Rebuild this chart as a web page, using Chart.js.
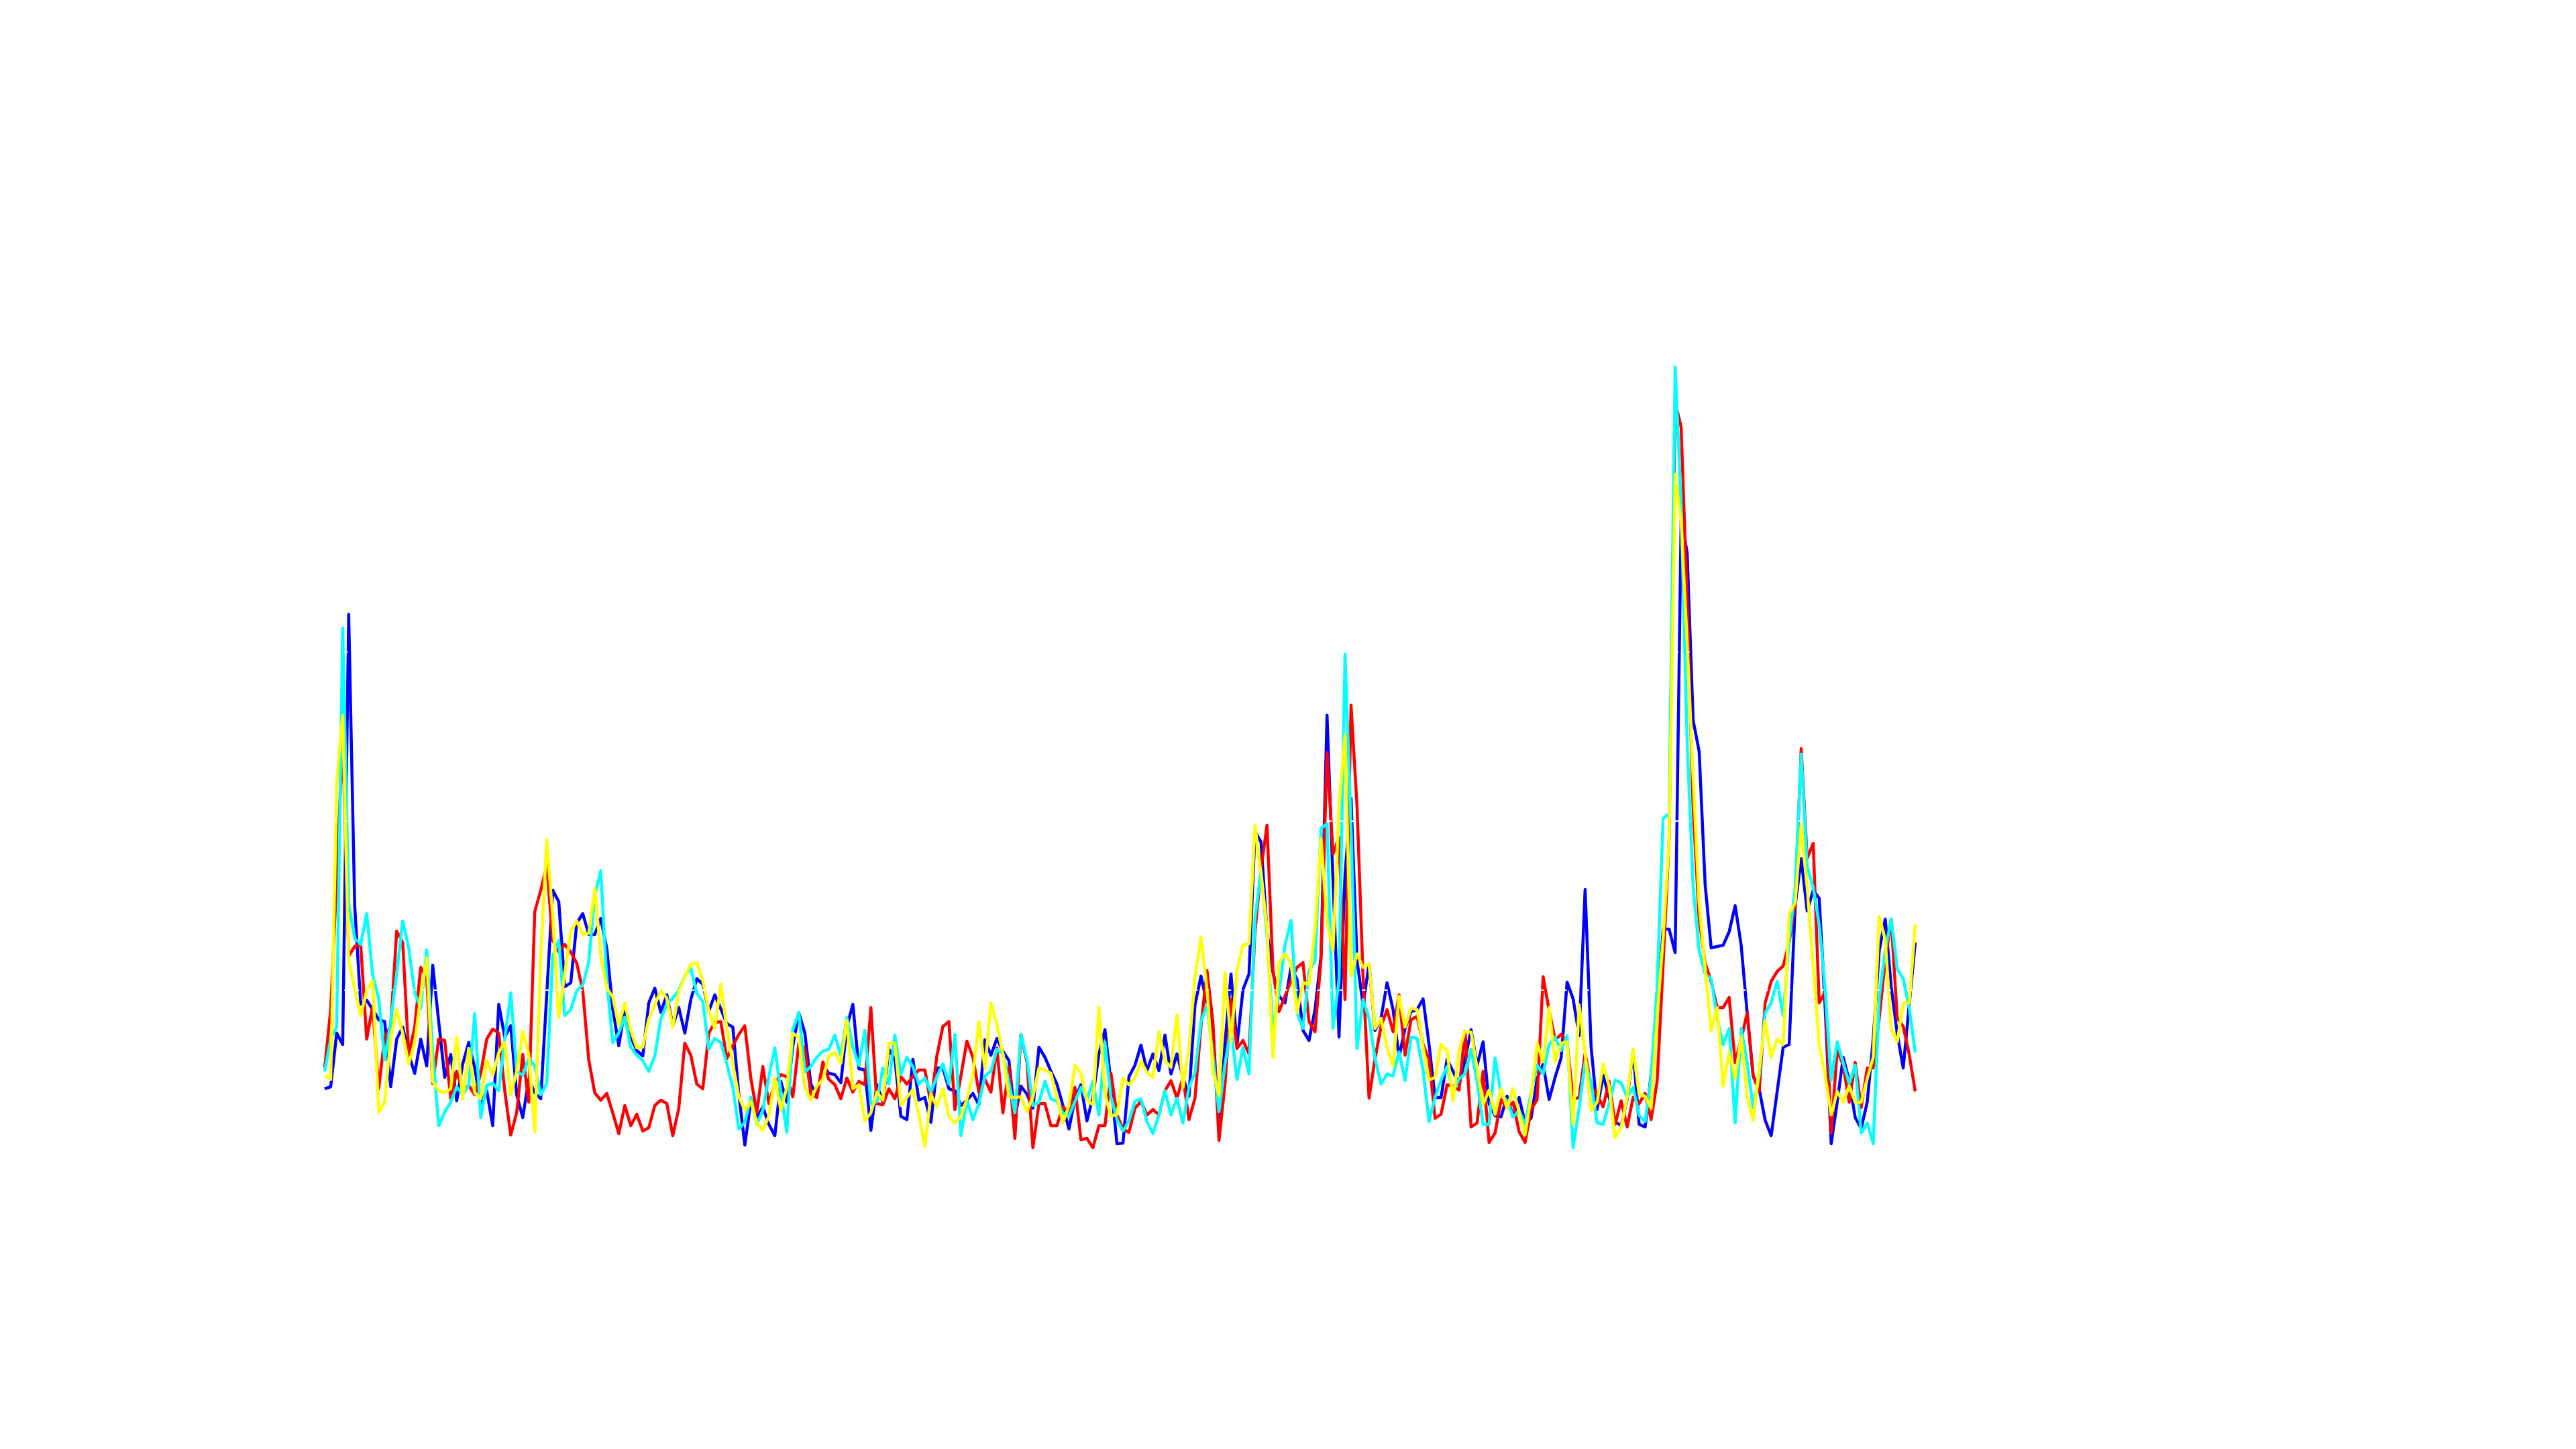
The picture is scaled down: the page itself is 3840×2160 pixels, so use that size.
<!DOCTYPE html>
<html>
<head>
<meta charset="utf-8">
<script src="https://cdn.jsdelivr.net/npm/chart.js@4.4.1/dist/chart.umd.min.js"></script>
<style>
    html, body { margin: 0; padding: 0; background: #ffffff; }
    #wrap { width: 3840px; height: 2160px; }
</style>
</head>
<body>
<div id="wrap"><canvas id="lineChart" width="3840" height="2160"></canvas></div>
<script>
var blueValues = [
    12.7, 13.0, 21.0, 19.3, 83.4, 40.0, 25.3, 25.9, 24.5, 23.0,
    22.7, 13.0, 20.1, 21.9, 17.8, 15.0, 20.1, 16.1, 31.1, 22.7,
    14.4, 17.8, 10.9, 16.4, 19.6, 15.8, 10.4, 12.4, 7.2, 25.3,
    20.4, 22.1, 11.8, 8.4, 14.1, 12.1, 11.2, 26.8, 42.3, 40.6,
    27.9, 28.5, 37.4, 38.8, 35.7, 35.7, 38.1, 33.6, 24.6, 19.1,
    24.6, 20.5, 18.4, 17.6, 25.5, 27.7, 24.1, 26.7, 22.1, 24.8,
    21.0, 26.0, 29.1, 28.3, 24.3, 26.7, 24.6, 22.4, 21.9, 11.9,
    4.3, 10.8, 8.3, 10.0, 7.4, 5.7, 13.8, 10.7, 19.1, 24.0,
    21.0, 13.4, 11.7, 16.2, 15.0, 14.8, 13.6, 21.9, 25.3, 15.7,
    15.5, 6.5, 13.3, 10.7, 18.6, 17.1, 8.6, 8.1, 17.1, 11.0,
    11.4, 7.7, 15.8, 15.8, 12.7, 12.4, 10.2, 11.0, 12.0, 10.3,
    20.0, 17.7, 20.2, 18.3, 16.9, 8.4, 13.1, 11.9, 9.8, 18.9,
    17.4, 15.3, 13.4, 10.2, 6.7, 11.2, 13.3, 7.9, 11.5, 17.9,
    21.5, 13.6, 4.5, 4.6, 14.5, 16.2, 19.2, 15.4, 17.9, 15.4,
    20.7, 14.9, 17.9, 14.4, 11.6, 25.2, 29.5, 25.5, 20.9, 6.8,
    19.4, 29.8, 19.2, 27.5, 29.8, 51.0, 49.5, 36.1, 30.0, 26.5,
    25.5, 30.8, 29.0, 21.4, 19.9, 24.5, 32.5, 68.4, 43.7, 20.4,
    44.7, 56.0, 31.8, 25.2, 31.3, 21.4, 23.2, 28.5, 24.5, 17.4,
    21.7, 24.2, 24.5, 26.1, 19.3, 11.4, 11.4, 17.1, 15.3, 13.3,
    17.1, 21.5, 16.2, 19.7, 10.5, 8.7, 8.5, 11.6, 8.5, 11.4,
    7.6, 8.3, 14.2, 16.4, 11.1, 14.4, 17.3, 28.6, 26.1, 20.6,
    42.4, 18.9, 9.6, 14.7, 11.4, 7.8, 7.2, 11.1, 18.4, 7.4,
    7.0, 14.9, 23.7, 36.5, 36.5, 33.0, 97.7, 92.6, 67.6, 63.0,
    43.1, 33.7, 33.9, 34.1, 36.1, 40.0, 34.1, 24.0, 14.6, 12.7,
    8.0, 5.7, 12.3, 18.9, 19.3, 40.0, 47.0, 39.2, 42.3, 41.1,
    24.8, 4.5, 10.7, 17.4, 13.9, 8.4, 6.8, 10.7, 20.1, 33.3,
    38.0, 27.9, 20.9, 15.8, 25.2, 34.5
];

var redValues = [
    15.8, 24.5, 44.0, 65.3, 32.5, 33.9, 34.2, 20.1, 25.0, 12.7,
    20.4, 22.1, 36.2, 34.5, 17.8, 21.9, 30.8, 29.1, 13.5, 20.1,
    19.9, 11.2, 15.3, 12.4, 13.2, 11.8, 15.0, 20.1, 21.6, 21.0,
    12.4, 5.8, 9.2, 17.8, 10.7, 39.1, 42.3, 46.0, 34.8, 33.1,
    34.2, 33.1, 31.4, 27.3, 17.0, 12.1, 11.0, 12.0, 9.1, 6.0,
    10.2, 7.2, 8.9, 6.4, 6.9, 10.2, 11.0, 10.5, 5.7, 9.8,
    19.5, 17.7, 13.4, 12.7, 21.0, 22.6, 22.7, 17.2, 19.1, 20.8,
    22.1, 14.3, 9.1, 16.0, 10.5, 13.6, 14.8, 14.5, 11.5, 19.5,
    18.8, 11.9, 11.4, 16.7, 14.1, 13.3, 11.2, 14.3, 12.2, 13.8,
    13.3, 24.8, 10.5, 10.3, 12.7, 11.2, 14.5, 13.4, 14.5, 15.5,
    15.5, 10.5, 17.6, 22.0, 22.7, 9.6, 14.6, 19.8, 17.4, 12.2,
    14.1, 12.2, 18.8, 9.1, 16.0, 5.3, 20.8, 16.7, 3.9, 10.5,
    10.5, 7.2, 7.2, 10.0, 9.1, 12.9, 5.1, 5.3, 3.9, 7.2,
    7.2, 15.0, 8.8, 6.7, 6.2, 9.8, 10.8, 8.8, 9.6, 8.8,
    12.4, 13.9, 11.3, 14.4, 8.1, 11.3, 22.0, 30.3, 22.5, 5.0,
    13.4, 26.0, 18.7, 19.9, 17.9, 36.1, 45.4, 52.0, 30.3, 24.2,
    26.5, 28.8, 30.8, 31.5, 22.7, 21.2, 32.0, 62.8, 47.7, 50.2,
    26.0, 69.9, 54.8, 29.5, 11.3, 17.2, 22.0, 24.5, 21.2, 26.7,
    17.7, 23.0, 23.5, 19.3, 17.1, 8.3, 8.9, 13.3, 13.1, 12.5,
    21.3, 7.0, 7.6, 15.3, 4.7, 6.1, 11.1, 9.8, 10.7, 6.3,
    4.7, 9.6, 11.1, 29.4, 24.4, 20.0, 20.8, 19.7, 11.1, 11.4,
    18.0, 13.1, 11.8, 10.0, 13.8, 7.4, 10.9, 7.0, 11.4, 10.5,
    12.0, 8.1, 13.8, 31.2, 50.0, 115.2, 111.3, 85.6, 54.4, 38.0,
    31.4, 28.7, 24.8, 24.8, 26.3, 16.6, 20.1, 24.0, 14.6, 12.3,
    25.5, 28.7, 30.2, 31.0, 34.5, 40.4, 63.4, 47.0, 49.3, 25.5,
    27.1, 6.1, 18.5, 16.2, 10.7, 16.6, 9.9, 15.8, 15.8, 23.2,
    31.8, 38.0, 23.2, 22.0, 17.8, 12.3
];

var cyanValues = [
    15.3, 20.1, 21.9, 81.4, 40.3, 35.1, 34.2, 38.8, 29.6, 26.2,
    17.0, 22.7, 29.9, 37.7, 33.7, 27.0, 24.7, 33.4, 18.1, 7.2,
    9.2, 10.7, 13.0, 11.8, 13.2, 23.9, 8.4, 13.2, 13.5, 12.4,
    20.1, 27.0, 15.3, 14.7, 17.3, 16.1, 11.8, 13.5, 32.5, 34.8,
    23.6, 24.5, 27.3, 28.2, 31.6, 41.5, 45.2, 28.8, 19.6, 21.0,
    23.4, 18.9, 17.7, 16.9, 15.3, 17.6, 23.1, 25.3, 26.2, 27.4,
    29.6, 30.7, 26.9, 25.7, 18.6, 20.2, 19.6, 16.4, 12.9, 6.7,
    7.7, 11.4, 7.4, 9.5, 14.5, 18.8, 12.2, 6.2, 21.5, 24.1,
    15.2, 16.0, 17.4, 18.3, 18.6, 20.7, 17.6, 23.3, 18.9, 16.2,
    21.4, 10.4, 10.8, 15.8, 13.4, 20.7, 14.8, 17.4, 16.0, 13.4,
    14.3, 12.2, 14.5, 16.4, 13.4, 20.8, 5.7, 11.0, 8.1, 10.5,
    14.6, 15.3, 18.6, 17.9, 13.6, 9.1, 20.8, 17.1, 10.2, 10.7,
    13.8, 11.2, 10.8, 9.1, 8.6, 10.8, 12.9, 11.0, 13.8, 8.8,
    19.6, 11.5, 8.1, 6.4, 7.9, 10.8, 11.2, 7.8, 6.0, 8.8,
    12.4, 8.8, 11.3, 7.6, 12.9, 15.1, 22.7, 25.2, 17.4, 9.3,
    16.4, 21.7, 14.1, 18.9, 14.9, 38.1, 45.2, 35.6, 21.4, 27.0,
    34.1, 37.8, 24.0, 21.7, 30.3, 31.8, 51.5, 52.2, 21.7, 29.0,
    77.5, 51.7, 18.7, 26.0, 23.2, 17.2, 13.4, 14.9, 14.6, 18.2,
    13.9, 20.4, 20.2, 15.5, 7.8, 11.4, 14.0, 16.0, 12.2, 14.2,
    14.9, 18.6, 13.8, 7.4, 7.4, 17.3, 11.8, 10.9, 8.5, 9.4,
    7.4, 12.2, 16.2, 14.9, 19.3, 20.4, 18.4, 20.6, 3.9, 9.8,
    16.7, 13.6, 7.6, 7.4, 10.5, 14.0, 13.6, 11.4, 12.9, 8.7,
    7.8, 14.4, 28.1, 53.0, 53.7, 120.3, 99.6, 64.5, 42.7, 33.3,
    29.8, 29.1, 23.2, 19.3, 21.7, 7.6, 21.7, 16.6, 9.9, 14.6,
    24.0, 25.5, 28.7, 23.6, 34.9, 42.7, 62.6, 45.8, 42.7, 37.2,
    27.5, 13.9, 19.7, 16.6, 13.5, 16.2, 6.1, 7.6, 4.5, 26.3,
    33.3, 38.0, 30.6, 29.1, 24.8, 18.1
];

var yellowValues = [
    14.7, 14.1, 58.4, 68.4, 31.9, 27.6, 23.6, 27.3, 28.8, 9.2,
    10.7, 20.4, 24.5, 21.0, 16.4, 19.6, 26.5, 32.2, 13.8, 12.4,
    12.1, 12.7, 20.4, 11.2, 18.7, 12.1, 11.2, 17.0, 14.7, 18.1,
    19.6, 11.8, 15.3, 21.3, 17.8, 6.3, 32.5, 49.8, 38.3, 23.3,
    29.9, 36.2, 37.7, 35.7, 35.9, 42.6, 32.6, 27.7, 26.4, 22.1,
    25.5, 21.4, 18.8, 18.9, 23.1, 25.2, 27.4, 26.2, 21.9, 27.1,
    29.5, 31.2, 31.5, 28.8, 24.3, 21.7, 28.3, 21.7, 16.4, 11.5,
    9.5, 10.8, 7.6, 6.5, 8.6, 14.3, 9.5, 12.9, 21.0, 20.3,
    12.9, 11.0, 13.1, 14.1, 17.6, 18.1, 16.5, 22.9, 12.7, 13.3,
    7.9, 9.1, 12.2, 11.0, 19.5, 19.5, 10.2, 11.4, 12.6, 8.8,
    4.1, 11.9, 10.0, 12.7, 8.6, 7.6, 8.6, 11.2, 14.8, 22.7,
    15.7, 25.5, 22.2, 17.9, 11.5, 11.4, 11.5, 9.3, 11.5, 15.8,
    15.5, 15.0, 11.4, 7.6, 10.2, 16.2, 15.0, 11.0, 10.3, 24.8,
    11.9, 8.6, 8.9, 14.3, 13.3, 14.3, 16.8, 15.1, 14.4, 21.2,
    16.9, 15.9, 23.7, 12.9, 18.7, 29.3, 35.3, 27.5, 15.4, 11.6,
    30.0, 19.7, 30.3, 34.1, 34.3, 52.0, 44.7, 36.6, 17.4, 31.5,
    32.8, 31.3, 24.0, 28.5, 28.3, 36.6, 50.0, 37.6, 33.3, 54.8,
    65.4, 29.5, 32.8, 30.8, 31.3, 21.7, 23.2, 18.9, 16.1, 26.5,
    21.9, 24.7, 24.5, 18.9, 14.0, 14.4, 19.3, 18.4, 10.9, 18.4,
    21.3, 21.1, 15.8, 10.3, 12.5, 8.9, 12.7, 9.8, 12.7, 9.2,
    5.8, 11.6, 19.5, 16.7, 24.8, 16.7, 19.5, 19.7, 7.4, 25.2,
    18.0, 9.4, 10.7, 16.4, 13.1, 5.4, 7.0, 11.4, 18.6, 11.8,
    11.6, 9.8, 23.3, 35.2, 50.0, 104.3, 97.3, 79.3, 59.1, 40.4,
    30.6, 21.3, 24.8, 13.1, 18.1, 14.2, 20.5, 11.5, 8.0, 15.8,
    22.8, 17.4, 20.1, 19.3, 38.8, 40.4, 52.1, 42.7, 31.0, 19.3,
    14.6, 8.8, 12.3, 10.7, 13.1, 10.7, 10.7, 14.2, 17.4, 38.4,
    34.9, 21.7, 19.7, 25.5, 25.5, 37.2
];

// levels of the white dashed grid that sits on top of the lines
var gridValues = [2.2, 27.4, 52.6, 77.8, 103.0, 128.2];

// one label per sample, axes are hidden anyway
var labels = [];
for (var i = 0; i < blueValues.length; i++) {
    labels.push(String(i));
}

var lineColors = {
    blue: "rgb(0, 0, 255)",
    red: "rgb(255, 0, 0)",
    cyan: "rgb(0, 255, 255)",
    yellow: "rgb(255, 255, 0)"
};

function makeSeries(name, values, color, order) {
    return {
        label: name,
        data: values,
        borderColor: color,
        backgroundColor: color,
        borderWidth: 4.5,
        borderJoinStyle: 'round',
        pointRadius: 0,
        tension: 0,
        fill: false,
        order: order
    };
}

var whiteGrid = {
    id: 'whiteGrid',
    afterDatasetsDraw: function(chart) {
        var ctx = chart.ctx;
        var yScale = chart.scales.y;
        var left = chart.chartArea.left - 4;
        var right = chart.chartArea.right + 4;
        ctx.save();
        ctx.strokeStyle = '#ffffff';
        ctx.lineWidth = 2;
        ctx.setLineDash([5, 11.67]);
        for (var g = 0; g < gridValues.length; g++) {
            var y = Math.round(yScale.getPixelForValue(gridValues[g]));
            ctx.beginPath();
            ctx.moveTo(left, y);
            ctx.lineTo(right, y);
            ctx.stroke();
        }
        ctx.restore();
    }
};

var config = {
    type: 'line',
    data: {
        labels: labels,
        datasets: [
            makeSeries('blue', blueValues, lineColors.blue, 3),
            makeSeries('red', redValues, lineColors.red, 2),
            makeSeries('cyan', cyanValues, lineColors.cyan, 1),
            makeSeries('yellow', yellowValues, lineColors.yellow, 0)
        ]
    },
    options: {
        responsive: false,
        animation: false,
        devicePixelRatio: 1,
        layout: {
            padding: {
                left: 484,
                right: 985,
                top: 450,
                bottom: 410
            }
        },
        scales: {
            x: { display: false },
            y: { display: false, min: 0, max: 130 }
        },
        plugins: {
            legend: { display: false },
            tooltip: { enabled: false }
        }
    },
    plugins: [whiteGrid]
};

var ctx = document.getElementById("lineChart").getContext("2d");
var chart = new Chart(ctx, config);
</script>
</body>
</html>
